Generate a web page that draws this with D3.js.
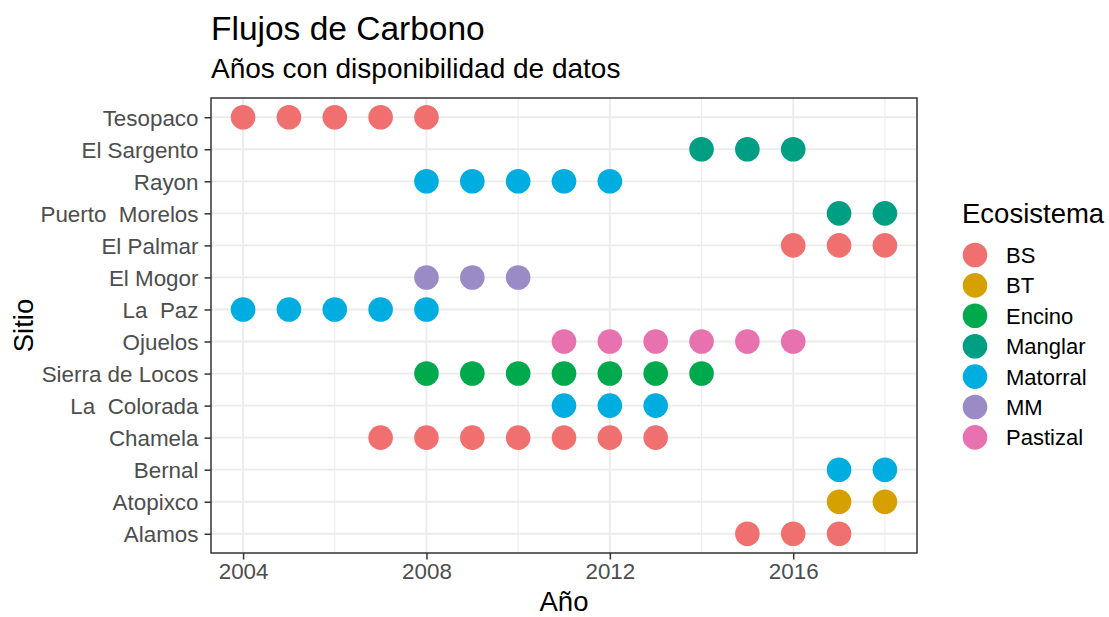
<!DOCTYPE html>
<meta charset="utf-8">
<style>
  body { margin: 0; background: #fff; }
  svg text { font-family: "Liberation Sans", Arial, sans-serif; }
</style>
<body>
<svg width="1109" height="617"></svg>

<script src="https://cdn.jsdelivr.net/npm/d3@7"></script>
<script>

// Sites, top to bottom
var sites = ["Tesopaco", "El Sargento", "Rayon", "Puerto  Morelos", "El Palmar",
             "El Mogor", "La  Paz", "Ojuelos", "Sierra de Locos", "La  Colorada",
             "Chamela", "Bernal", "Atopixco", "Alamos"];

// Ecosystem of each site
var siteEco = ["BS", "Manglar", "Matorral", "Manglar", "BS",
               "MM", "Matorral", "Pastizal", "Encino", "Matorral",
               "BS", "Matorral", "BT", "BS"];

// Years with data, per site
var siteYears = [
  [2004, 2005, 2006, 2007, 2008],
  [2014, 2015, 2016],
  [2008, 2009, 2010, 2011, 2012],
  [2017, 2018],
  [2016, 2017, 2018],
  [2008, 2009, 2010],
  [2004, 2005, 2006, 2007, 2008],
  [2011, 2012, 2013, 2014, 2015, 2016],
  [2008, 2009, 2010, 2011, 2012, 2013, 2014],
  [2011, 2012, 2013],
  [2007, 2008, 2009, 2010, 2011, 2012, 2013],
  [2017, 2018],
  [2017, 2018],
  [2015, 2016, 2017]
];

var ecosystems = ["BS", "BT", "Encino", "Manglar", "Matorral", "MM", "Pastizal"];
var ecoColors  = ["#F07070", "#D6A000", "#00A94C", "#009E82", "#00ADE0", "#9A8AC6", "#E872B0"];

var xTicks = [2004, 2008, 2012, 2016];
var xMinor = [2006, 2010, 2014, 2018];

// flatten into points
var points = [];
sites.forEach(function(s, i) {
    siteYears[i].forEach(function(y) {
        points.push({site: s, year: y, eco: siteEco[i]});
    });
});

var svg = d3.select("svg");
var panel = {left: 211, right: 917, top: 98, bottom: 553};

var x = d3.scaleLinear()
    .domain([2004 - 0.7, 2018 + 0.7])
    .range([panel.left, panel.right]);

var y = d3.scalePoint()
    .domain(sites)
    .range([panel.top, panel.bottom])
    .padding(0.6);

var color = d3.scaleOrdinal().domain(ecosystems).range(ecoColors);

// grid
var grid = svg.append("g");
grid.selectAll(".minor")
    .data(xMinor)
    .enter().append("line")
    .attr("x1", x).attr("x2", x)
    .attr("y1", panel.top).attr("y2", panel.bottom)
    .attr("stroke", "#EBEBEB").attr("stroke-width", 1);

grid.selectAll(".major")
    .data(xTicks)
    .enter().append("line")
    .attr("x1", x).attr("x2", x)
    .attr("y1", panel.top).attr("y2", panel.bottom)
    .attr("stroke", "#EBEBEB").attr("stroke-width", 1.8);

grid.selectAll(".hmajor")
    .data(sites)
    .enter().append("line")
    .attr("x1", panel.left).attr("x2", panel.right)
    .attr("y1", y).attr("y2", y)
    .attr("stroke", "#EBEBEB").attr("stroke-width", 1.8);

// points
svg.append("g").selectAll("circle")
    .data(points)
    .enter().append("circle")
    .attr("cx", function(d) { return x(d.year); })
    .attr("cy", function(d) { return y(d.site); })
    .attr("r", 12.3)
    .attr("fill", function(d) { return color(d.eco); });

// panel border
svg.append("rect")
    .attr("x", panel.left).attr("y", panel.top)
    .attr("width", panel.right - panel.left)
    .attr("height", panel.bottom - panel.top)
    .attr("fill", "none")
    .attr("stroke", "#333333")
    .attr("stroke-width", 1.5);

// axes
var xAxis = svg.append("g")
    .attr("transform", "translate(0," + panel.bottom + ")")
    .call(d3.axisBottom(x).tickValues(xTicks).tickFormat(d3.format("d"))
          .tickSizeInner(6.5).tickSizeOuter(0).tickPadding(4));

var yAxis = svg.append("g")
    .attr("transform", "translate(" + panel.left + ",0)")
    .call(d3.axisLeft(y).tickSizeInner(6.5).tickSizeOuter(0).tickPadding(6));

[xAxis, yAxis].forEach(function(a) {
    a.select(".domain").remove();
    a.selectAll(".tick line").attr("stroke", "#333333").attr("stroke-width", 1.5);
    a.selectAll(".tick text")
        .attr("fill", "#4D4D4D")
        .style("font-size", "22.4px")
        .style("white-space", "pre")
        .attr("font-family", null);
});
yAxis.selectAll(".tick text").attr("dy", "0.36em");

// titles
svg.append("text")
    .attr("x", panel.left).attr("y", 40)
    .style("font-size", "33.5px")
    .attr("fill", "#000")
    .text("Flujos de Carbono");

svg.append("text")
    .attr("x", panel.left).attr("y", 78)
    .style("font-size", "28px")
    .attr("fill", "#000")
    .text("Años con disponibilidad de datos");

svg.append("text")
    .attr("x", (panel.left + panel.right) / 2).attr("y", 611)
    .attr("text-anchor", "middle")
    .style("font-size", "27.5px")
    .text("Año");

svg.append("text")
    .attr("transform", "translate(33," + (panel.top + panel.bottom) / 2 + ") rotate(-90)")
    .attr("text-anchor", "middle")
    .style("font-size", "27.5px")
    .text("Sitio");

// legend
var legend = svg.append("g");
legend.append("text")
    .attr("x", 962).attr("y", 223)
    .style("font-size", "27.5px")
    .text("Ecosistema");

var item = legend.selectAll(".item")
    .data(ecosystems)
    .enter().append("g")
    .attr("transform", function(d, i) { return "translate(975," + (255 + i * 30.4) + ")"; });

item.append("circle")
    .attr("r", 12.3)
    .attr("fill", function(d) { return color(d); });

item.append("text")
    .attr("x", 31)
    .attr("dy", "0.36em")
    .style("font-size", "22px")
    .text(function(d) { return d; });

</script>
</body>
